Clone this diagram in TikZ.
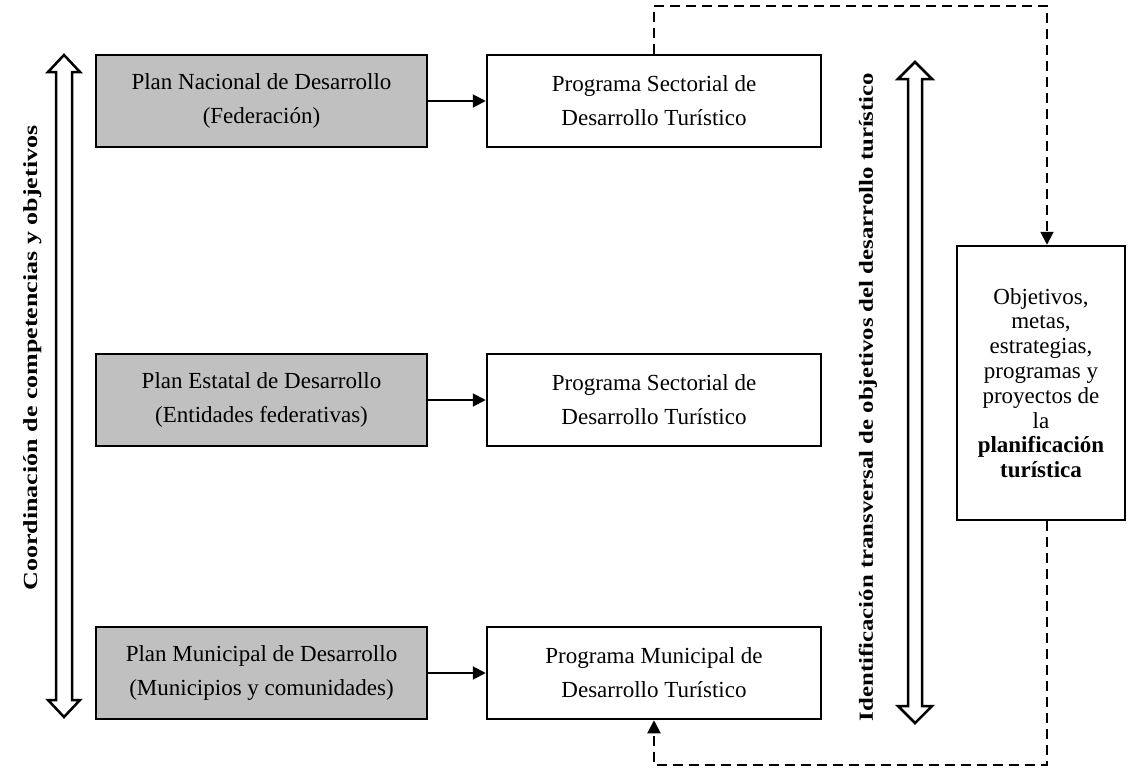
\documentclass[tikz,border=0pt]{standalone}
\usepackage{fontspec}
\setmainfont{Liberation Serif}
\newfontfamily\sidefont[FakeStretch=1.3]{Liberation Serif}
\newfontfamily\identfont[FakeStretch=1.24]{Liberation Serif}
\usetikzlibrary{arrows.meta,positioning}
\definecolor{planGray}{RGB}{192,192,192}
\tikzset{
  plan/.style={draw,line width=2.5pt,fill=planGray,minimum width=331pt,minimum height=92pt,
    align=center,inner sep=0pt,font=\fontsize{23}{34}\selectfont},
  prog/.style={plan,fill=white,minimum width=334pt},
  conn/.style={line width=2pt,-{Triangle[length=13pt,width=13pt]}},
  dconn/.style={conn,dash pattern=on 10pt off 6pt},
  side/.style={rotate=90,inner sep=0pt,font=\sidefont\bfseries\fontsize{20}{20}\selectfont},
  blockarrow/.style={draw,line width=2.5pt,fill=white,line join=miter}
}
\begin{document}
\begin{tikzpicture}[x=1pt,y=-1pt]
\useasboundingbox (0,0) rectangle (1133,769);
% planes (izquierda)
\node[plan] (pnd) at (261.5,101) {Plan Nacional de Desarrollo\\(Federación)};
\node[plan] (ped) at (261.5,400) {Plan Estatal de Desarrollo\\(Entidades federativas)};
\node[plan] (pmd) at (261.5,673) {Plan Municipal de Desarrollo\\(Municipios y comunidades)};
% programas
\node[prog] (psn) at (654,101) {Programa Sectorial de\\Desarrollo Turístico};
\node[prog] (pse) at (654,400) {Programa Sectorial de\\Desarrollo Turístico};
\node[prog] (pmm) at (654,673) {Programa Municipal de\\Desarrollo Turístico};
\node[plan,fill=white,minimum width=168pt,minimum height=274pt,font=\fontsize{23}{24.8}\selectfont] (obj) at (1041,383)
  {Objetivos,\\metas,\\estrategias,\\programas y\\proyectos de\\la\\\textbf{planificación}\\\textbf{turística}};
\draw[conn] (pnd) -- (psn);
\draw[conn] (ped) -- (pse);
\draw[conn] (pmd) -- (pmm);
% lazo punteado
\coordinate (ttop) at (1047,6);
\coordinate (bbot) at (1047,765);
\draw[dconn] (psn.north) |- (ttop) -- (ttop |- obj.north);
\draw[dconn] (bbot |- obj.south) -- (bbot) -| (pmm.south);
% flechas dobles
\foreach \ax/\at/\ab/\sw/\hw in {64/55/717/8/16, 915/62/723/7/17}
  \draw[blockarrow] (\ax,\at) -- (\ax+\hw,\at+17) -- (\ax+\sw,\at+17) -- (\ax+\sw,\ab-17)
    -- (\ax+\hw,\ab-17) -- (\ax,\ab) -- (\ax-\hw,\ab-17) -- (\ax-\sw,\ab-17)
    -- (\ax-\sw,\at+17) -- (\ax-\hw,\at+17) -- cycle;
\node[side] (coord) at (33,358) {Coordinación de competencias y objetivos};
\node[side,font=\identfont\bfseries\fontsize{20}{20}\selectfont] (ident) at (868,397)
  {Identificación transversal de objetivos del desarrollo turístico};
\end{tikzpicture}
\end{document}
